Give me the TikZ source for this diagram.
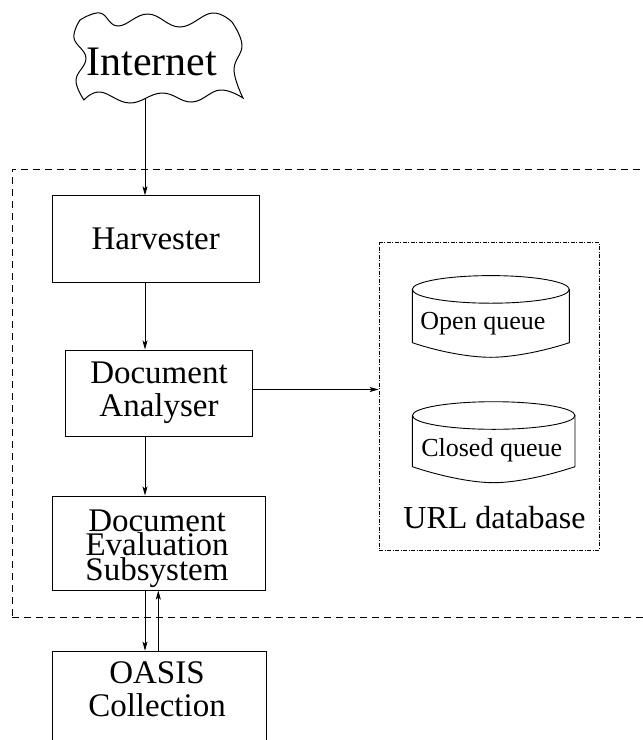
\documentclass[tikz,border=0pt]{standalone}
\usepackage{fontspec}
\setmainfont{Liberation Serif}
\usetikzlibrary{arrows.meta}
\tikzset{
  box/.style={draw, line width=1pt, rectangle, inner sep=0pt, align=center},
  arr/.style={line width=0.9pt, -{Stealth[length=9pt,width=5pt,inset=2pt]}},
  boxfont/.style={font=\fontsize{33}{33.3}\selectfont},
  qfont/.style={font=\fontsize{26}{28}\selectfont},
  cyl/.style={line width=0.9pt},
}
\begin{document}
\begin{tikzpicture}[x=1pt,y=-1pt]
\useasboundingbox (0,0) rectangle (643,740);
\clip (0,0) rectangle (643,740);

% outer dashed system boundary
\node[draw, line width=0.9pt, dash pattern=on 7pt off 5pt, inner sep=0pt,
      minimum width=648pt, minimum height=448pt] (system) at (336,393) {};

% Internet cloud
\node[anchor=base, font=\fontsize{42}{44}\selectfont, inner sep=0pt] (internet) at (151.7,75) {Internet};
\draw[line width=1pt]
  plot[smooth, tension=0.7] coordinates {(80,20) (100,13) (118,26) (148,14) (180,27) (212,13) (232,22)}
  -- plot[smooth, tension=0.7] coordinates {(232,22) (242,45) (234,70) (243,98)}
  -- plot[smooth, tension=0.7] coordinates {(243,98) (220,90) (192,102) (162,93) (130,103) (100,92) (84,100)}
  -- plot[smooth, tension=0.7] coordinates {(84,100) (76,80) (86,58) (74,38) (80,20)};
\coordinate (cloudbot) at (145,98);
\coordinate (colA) at (145,0);
\coordinate (colB) at (158.3,0);
\coordinate (rowA) at (0,389.5);

% boxes
\node[box, boxfont, minimum width=206.7pt, minimum height=86.3pt] (harv) at (155.7,239) {Harvester};
\node[box, boxfont, minimum width=186.6pt, minimum height=86pt] (da) at (159,393) {Document\\Analyser};
\node[box, minimum width=213.4pt, minimum height=94pt] (des) at (159,543) {};
\node[font=\fontsize{33}{24.5}\selectfont, align=center, anchor=base, inner sep=0pt] (destext) at (157,580) {Document\\Evaluation\\Subsystem};
\node[box, anchor=north, minimum width=214.4pt, minimum height=120pt] (oasis) at (159.5,650.7) {};
\node[boxfont, align=center, anchor=base, inner sep=0pt] (oasistext) at (157,716.7) {OASIS\\Collection};

% URL database
\node[draw, line width=0.8pt, dash pattern=on 4pt off 1.5pt on 1pt off 1.5pt, inner sep=0pt,
      minimum width=220.3pt, minimum height=307.3pt] (urldb) at (489.2,396.4) {};
\node[anchor=base, font=\fontsize{32}{34}\selectfont, inner sep=0pt] (urltext) at (494.5,528.3) {URL database};

% Open queue cylinder
\draw[cyl] (490.8,289.4) ellipse [x radius=78.5pt, y radius=13.8pt];
\draw[cyl] (412.3,289.4) -- (412.3,342.7) .. controls (440,352) and (470,357.3) .. (490.8,357.3)
  .. controls (511,357.3) and (541,352) .. (569.3,342.7) -- (569.3,289.4);
\node[anchor=base, qfont, inner sep=0pt] (openq) at (482.9,329.3) {Open queue};

% Closed queue cylinder
\draw[cyl] (493.7,415.5) ellipse [x radius=81.3pt, y radius=13.8pt];
\draw[cyl] (412.3,415.5) -- (412.3,466.7) .. controls (440,476) and (472,482.7) .. (493.7,482.7)
  .. controls (515,482.7) and (547,476) .. (575,466.7) -- (575,415.5);
\node[anchor=base, qfont, inner sep=0pt] (closedq) at (491.7,456.7) {Closed queue};

% connectors
\draw[arr] (cloudbot) -- (harv.north -| colA);
\draw[arr] (harv.south -| colA) -- (da.north -| colA);
\draw[arr] (da.south -| colA) -- (des.north -| colA);
\draw[arr] (des.south -| colA) -- (oasis.north -| colA);
\draw[arr] (oasis.north -| colB) -- (des.south -| colB);
\draw[arr] (da.east |- rowA) -- (urldb.west |- rowA);
\end{tikzpicture}
\end{document}
